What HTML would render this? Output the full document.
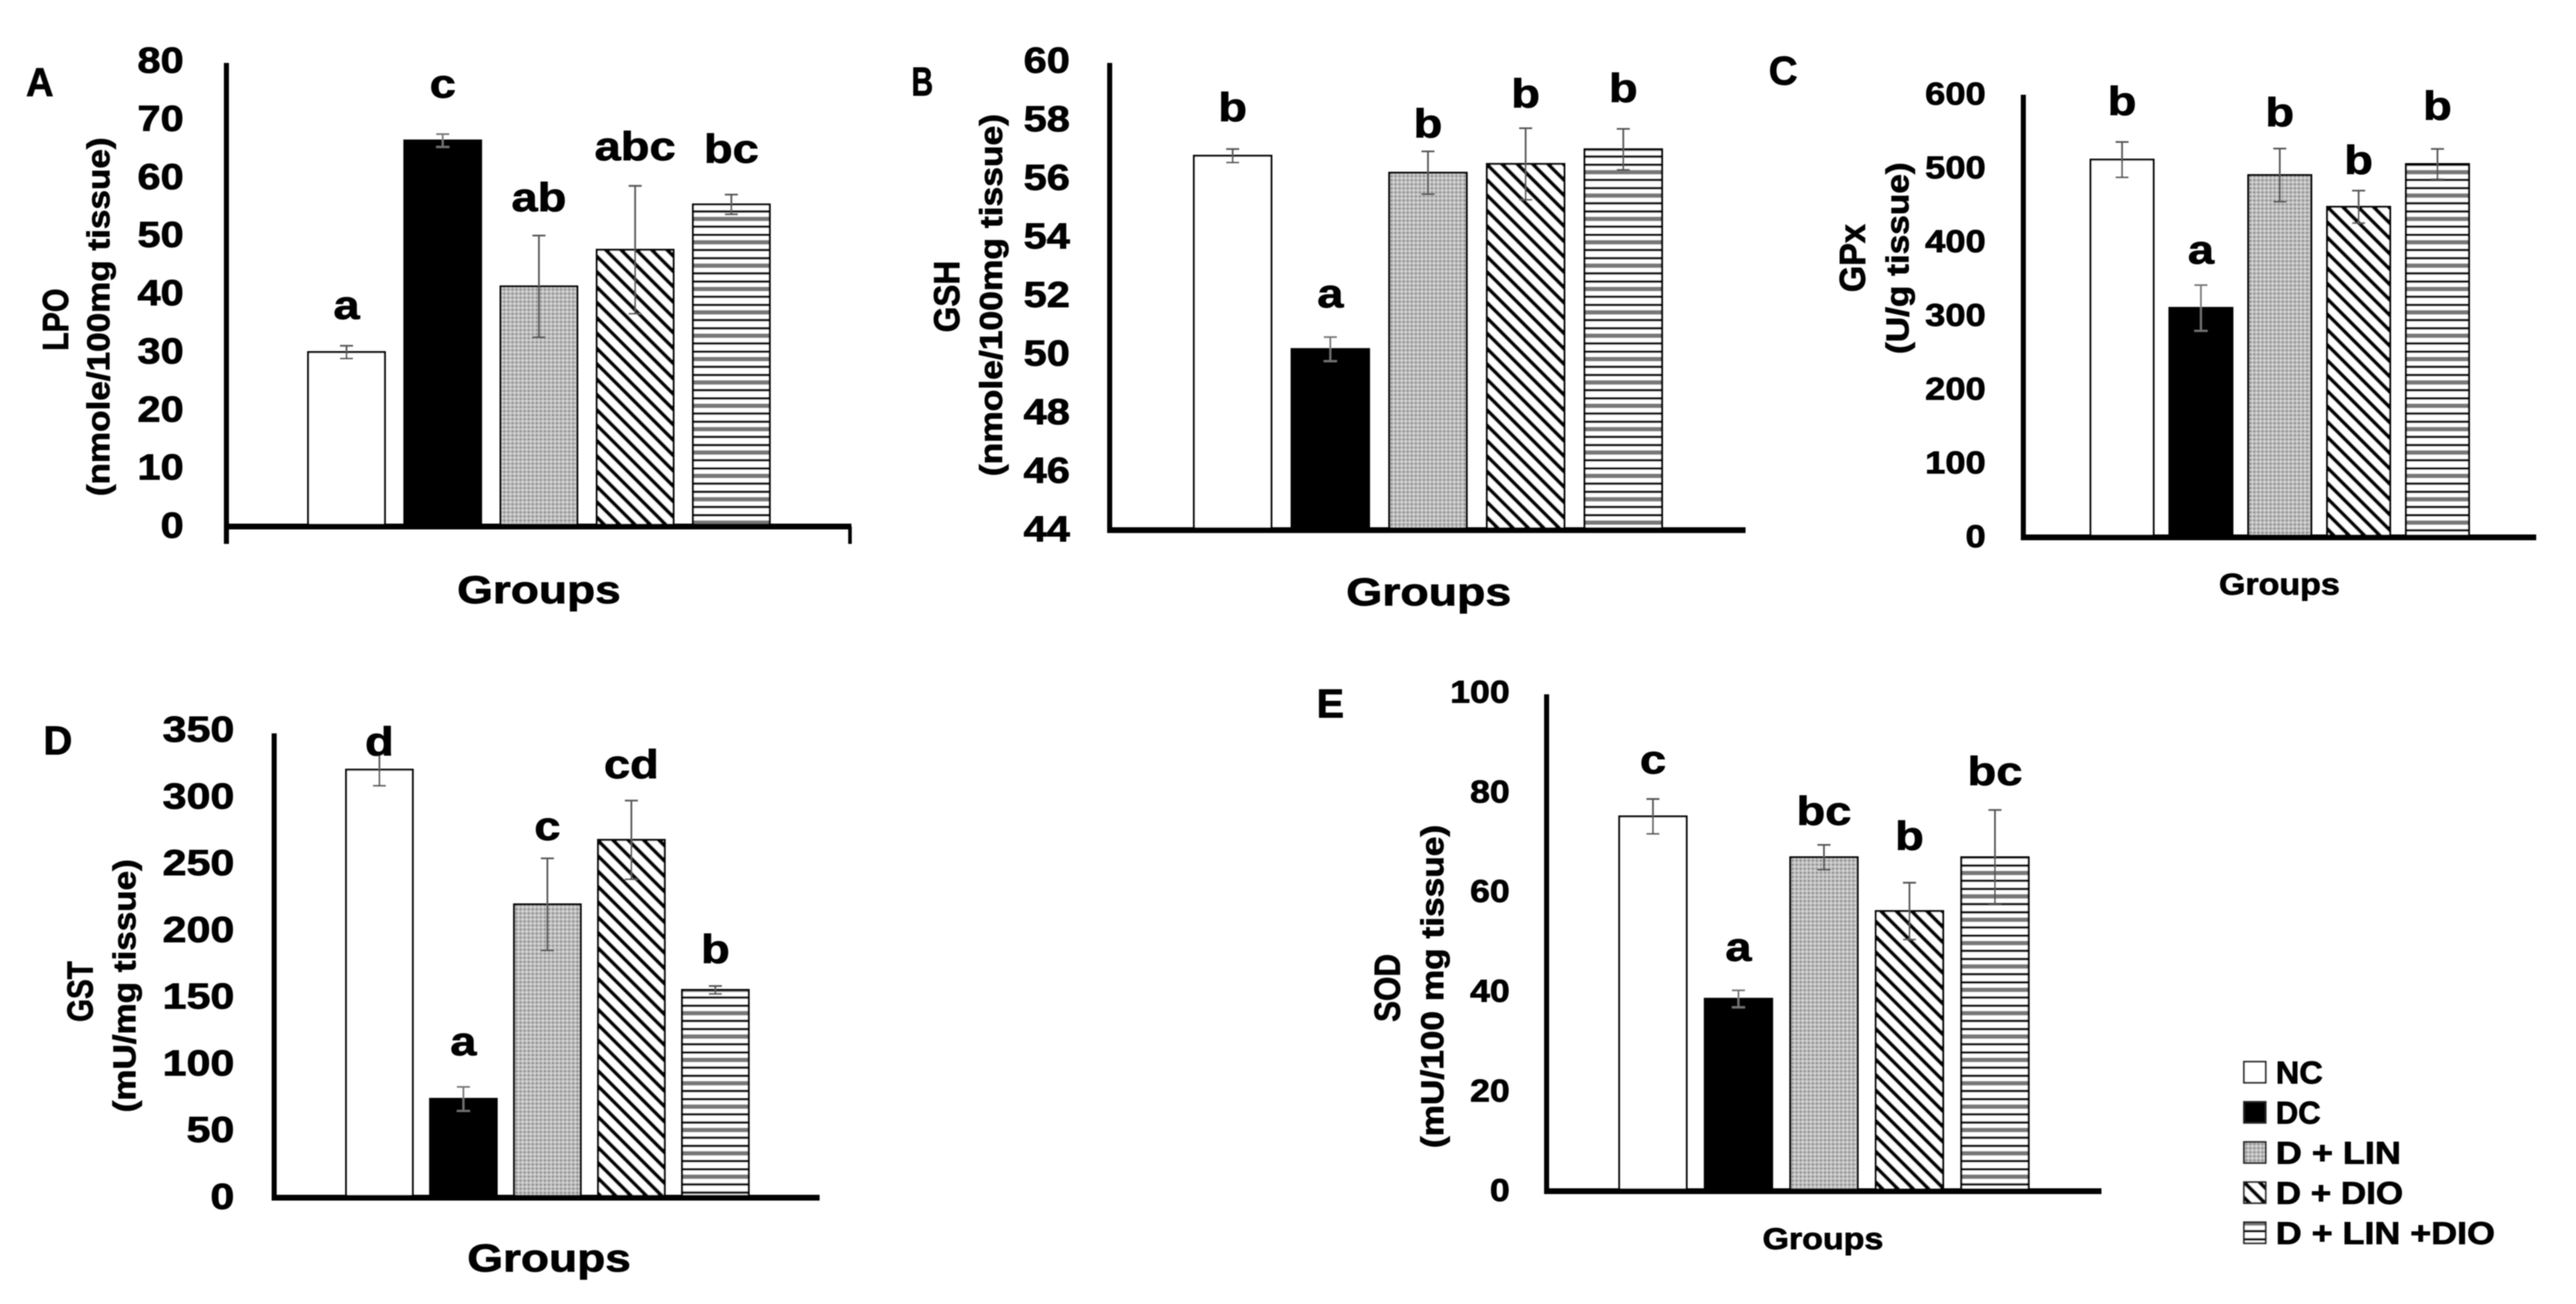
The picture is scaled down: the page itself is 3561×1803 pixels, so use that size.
<!DOCTYPE html>
<html lang="en">
<head>
<meta charset="utf-8">
<title>Oxidative stress markers by treatment group</title>
<style>
html,body{margin:0;padding:0;background:#fff;}
svg{display:block;}
text{font-family:"Liberation Sans",Arial,sans-serif;font-weight:bold;fill:#000;stroke:#000;stroke-width:1;}
</style>
</head>
<body>
<svg id="figure" xmlns="http://www.w3.org/2000/svg" width="3561" height="1803" viewBox="0 0 3561 1803">
  <defs>
    <filter id="soft" filterUnits="userSpaceOnUse" x="0" y="0" width="3561" height="1803">
      <feGaussianBlur stdDeviation="0.9"/>
    </filter>
    <pattern id="fill-nc" patternUnits="userSpaceOnUse" width="10" height="10"><rect width="10" height="10" fill="#fff"/></pattern>
    <pattern id="fill-dc" patternUnits="userSpaceOnUse" width="10" height="10"><rect width="10" height="10" fill="#000"/></pattern>
    <pattern id="fill-lin" patternUnits="userSpaceOnUse" width="5.6" height="5.6">
      <rect width="5.6" height="5.6" fill="#bcbcbc"/>
      <circle cx="2.8" cy="2.8" r="1.1" fill="#6a6a6a"/>
      <circle cx="0" cy="0" r="1" fill="#f2f2f2"/>
      <circle cx="5.6" cy="0" r="1" fill="#f2f2f2"/>
      <circle cx="0" cy="5.6" r="1" fill="#f2f2f2"/>
      <circle cx="5.6" cy="5.6" r="1" fill="#f2f2f2"/>
    </pattern>
    <pattern id="fill-diag" patternUnits="userSpaceOnUse" width="15" height="15" patternTransform="rotate(-45)">
      <rect width="15" height="15" fill="#fff"/>
      <rect x="0" y="0" width="5.5" height="15" fill="#000"/>
    </pattern>
    <pattern id="fill-combo" patternUnits="userSpaceOnUse" width="32.3" height="32.3">
      <rect width="32.3" height="32.3" fill="#fff"/>
      <rect y="0" width="32.3" height="3.4" fill="#000"/>
      <rect y="9" width="32.3" height="6" fill="#777"/>
      <rect y="21" width="32.3" height="3.4" fill="#000"/>
    </pattern>
  </defs>
  <rect width="3561" height="1803" fill="#fff"/>
  <g id="root" filter="url(#soft)"></g>
</svg>
<script>
const categories = ['NC', 'DC', 'D + LIN', 'D + DIO', 'D + LIN +DIO'];

const lpoValues = [30, 66.4, 41.3, 47.6, 55.4];
const lpoErrors = [1.1, 1.1, 8.75, 11, 1.7];
const lpoLetters = ['a', 'c', 'ab', 'abc', 'bc'];
const lpoLetterGaps = [4.4, 6.1, 4.0, 4.2, 5.3];
const lpoTicks = [0, 10, 20, 30, 40, 50, 60, 70, 80];

const gshValues = [56.78, 50.18, 56.2, 56.5, 57];
const gshErrors = [0.23, 0.41, 0.73, 1.22, 0.7];
const gshLetters = ['b', 'a', 'b', 'b', 'b'];
const gshLetterGaps = [0.91, 0.98, 0.44, 0.67, 0.88];
const gshTicks = [44, 46, 48, 50, 52, 54, 56, 58, 60];

const gpxValues = [512, 311, 491, 448, 506];
const gpxErrors = [24, 31, 36, 22, 20.5];
const gpxLetters = ['b', 'a', 'b', 'b', 'b'];
const gpxLetterGaps = [35, 27.5, 29, 21, 38];
const gpxTicks = [0, 100, 200, 300, 400, 500, 600];

const gstValues = [320.6, 74, 219.7, 268, 155.6];
const gstErrors = [12, 9, 34.5, 29.5, 3];
const gstLetters = ['d', 'a', 'c', 'cd', 'b'];
const gstLetterGaps = [-2, 23, 13, 16, 16.5];
const gstTicks = [0, 50, 100, 150, 200, 250, 300, 350];

const sodValues = [75.2, 38.6, 67, 56.2, 67];
const sodErrors = [3.5, 1.7, 2.5, 5.7, 9.5];
const sodLetters = ['c', 'a', 'bc', 'b', 'bc'];
const sodLetterGaps = [4.9, 5.7, 3.8, 6.4, 4.8];
const sodTicks = [0, 20, 40, 60, 80, 100];

const fills = ['url(#fill-nc)', 'url(#fill-dc)', 'url(#fill-lin)', 'url(#fill-diag)', 'url(#fill-combo)'];
const legendWidths = [65, 62, 173, 176, 303];

const root = document.getElementById('root');
const NS = 'http://www.w3.org/2000/svg';

function make(tag, attrs, parent, content) {
  const node = document.createElementNS(NS, tag);
  for (const key in attrs) node.setAttribute(key, attrs[key]);
  if (content !== undefined) node.textContent = content;
  parent.appendChild(node);
  return node;
}

function drawPanel(p) {
  const group = make('g', {}, root);
  
  

  const min = p.ticks[0];
  const max = p.ticks[p.ticks.length - 1];
  const yScale = v => p.base - (v - min) / (max - min) * (p.base - p.top);
  const xScale = i => p.firstCenter + i * p.step;

  categories.forEach((name, i) => {
    const barTop = yScale(p.values[i]);
    const bar = make('rect', {
      x: xScale(i) - p.barWidth / 2, y: barTop,
      width: p.barWidth, height: p.base - barTop,
      fill: fills[i], stroke: '#000', 'stroke-width': 2.8
    }, group);
    
    

    const hi = yScale(p.values[i] + p.errors[i]);
    const lo = yScale(p.values[i] - p.errors[i]);
    const cx = xScale(i);
    const errorBar = make('path', {
      d: 'M' + (cx - 9) + ' ' + hi + 'H' + (cx + 9) + 'M' + cx + ' ' + hi + 'V' + lo + 'M' + (cx - 9) + ' ' + lo + 'H' + (cx + 9),
      fill: 'none', stroke: i === 1 ? '#777' : '#555', 'stroke-width': 2.4
    }, group);
    
    

    const ly = yScale(p.values[i] + p.errors[i] + p.gaps[i]) - 1.5;
    const letter = make('text', {
      transform: 'translate(' + cx + ' ' + ly + ') scale(1.16 1)',
      'text-anchor': 'middle', 'font-size': 56
    }, group, p.letters[i]);
    
    
  });

  const yAxis = make('line', {
    x1: p.axisX, x2: p.axisX, y1: p.axisTop, y2: p.base + 4 + p.endTick,
    stroke: '#000', 'stroke-width': 7
  }, group);
  
  

  const xAxis = make('line', {
    x1: p.axisX - 3, x2: p.axisEnd, y1: p.base, y2: p.base,
    stroke: '#000', 'stroke-width': 8
  }, group);
  
  

  if (p.endTick > 0) {
    const endMark = make('line', {
      x1: p.axisEnd - 2, x2: p.axisEnd - 2, y1: p.base, y2: p.base + 4 + p.endTick,
      stroke: '#000', 'stroke-width': 5
    }, group);
    
    
  }

  p.ticks.forEach(t => {
    const y = yScale(t) + p.tickSize * 0.31;
    const tick = make('text', {
      transform: 'translate(' + p.tickRight + ' ' + y + ') scale(' + p.tickStretch + ' 1)',
      'text-anchor': 'end', 'font-size': p.tickSize
    }, group, String(t));
    
    
  });

  const title1 = make('text', {
    transform: 'translate(' + p.title1X + ' ' + p.title1Y + ') rotate(-90)',
    'text-anchor': 'middle', 'font-size': 50,
    textLength: p.title1Len, lengthAdjust: 'spacingAndGlyphs'
  }, group, p.title1);
  
  

  const title2 = make('text', {
    transform: 'translate(' + p.title2X + ' ' + p.title2Y + ') rotate(-90)',
    'text-anchor': 'middle', 'font-size': 44,
    textLength: p.title2Len, lengthAdjust: 'spacingAndGlyphs'
  }, group, p.title2);
  
  

  const xTitle = make('text', {
    x: p.groupsX, y: p.groupsY, 'text-anchor': 'middle', 'font-size': p.groupsSize,
    textLength: p.groupsLen, lengthAdjust: 'spacingAndGlyphs'
  }, group, 'Groups');
  
  

  const tag = make('text', {
    x: p.tagX, y: p.tagY, 'font-size': 56,
    textLength: p.tagLen, lengthAdjust: 'spacingAndGlyphs'
  }, group, p.key);
  
  
}

drawPanel({
  key: 'A', values: lpoValues, errors: lpoErrors, letters: lpoLetters, gaps: lpoLetterGaps, ticks: lpoTicks,
  base: 728, top: 85, axisX: 313, axisTop: 87, axisEnd: 1177, endTick: 20,
  firstCenter: 479, step: 133, barWidth: 106,
  tickRight: 254, tickSize: 50, tickStretch: 1.15,
  title1: 'LPO', title1X: 94, title1Y: 442, title1Len: 86,
  title2: '(nmole/100mg tissue)', title2X: 151, title2Y: 438, title2Len: 496,
  groupsX: 745, groupsY: 834, groupsSize: 54, groupsLen: 226,
  tagX: 36, tagY: 133, tagLen: 38
});

drawPanel({
  key: 'B', values: gshValues, errors: gshErrors, letters: gshLetters, gaps: gshLetterGaps, ticks: gshTicks,
  base: 733, top: 85, axisX: 1534, axisTop: 87, axisEnd: 2413, endTick: 0,
  firstCenter: 1704, step: 135, barWidth: 107,
  tickRight: 1479, tickSize: 50, tickStretch: 1.15,
  title1: 'GSH', title1X: 1326, title1Y: 410, title1Len: 99,
  title2: '(nmole/100mg tissue)', title2X: 1385, title2Y: 408, title2Len: 501,
  groupsX: 1975, groupsY: 837, groupsSize: 54, groupsLen: 228,
  tagX: 1260, tagY: 132, tagLen: 30
});

drawPanel({
  key: 'C', values: gpxValues, errors: gpxErrors, letters: gpxLetters, gaps: gpxLetterGaps, ticks: gpxTicks,
  base: 743, top: 131, axisX: 2797, axisTop: 131, axisEnd: 3506, endTick: 0,
  firstCenter: 2933.5, step: 109, barWidth: 87,
  tickRight: 2745, tickSize: 44, tickStretch: 1.14,
  title1: 'GPx', title1X: 2578, title1Y: 357, title1Len: 94,
  title2: '(U/g tissue)', title2X: 2638, title2Y: 357, title2Len: 265,
  groupsX: 3151, groupsY: 822, groupsSize: 42, groupsLen: 167,
  tagX: 2445, tagY: 117, tagLen: 40
});

drawPanel({
  key: 'D', values: gstValues, errors: gstErrors, letters: gstLetters, gaps: gstLetterGaps, ticks: gstTicks,
  base: 1656, top: 1010, axisX: 379, axisTop: 1014, axisEnd: 1133, endTick: 0,
  firstCenter: 524.5, step: 116.1, barWidth: 92,
  tickRight: 324, tickSize: 50, tickStretch: 1.19,
  title1: 'GST', title1X: 128, title1Y: 1371, title1Len: 84,
  title2: '(mU/mg tissue)', title2X: 187, title2Y: 1363, title2Len: 350,
  groupsX: 759, groupsY: 1758, groupsSize: 54, groupsLen: 226,
  tagX: 60, tagY: 1043, tagLen: 40
});

drawPanel({
  key: 'E', values: sodValues, errors: sodErrors, letters: sodLetters, gaps: sodLetterGaps, ticks: sodTicks,
  base: 1647, top: 958, axisX: 2138, axisTop: 960, axisEnd: 2905, endTick: 0,
  firstCenter: 2285, step: 118.2, barWidth: 93,
  tickRight: 2087, tickSize: 44, tickStretch: 1.12,
  title1: 'SOD', title1X: 1935, title1Y: 1366, title1Len: 94,
  title2: '(mU/100 mg tissue)', title2X: 1995, title2Y: 1364, title2Len: 447,
  groupsX: 2520, groupsY: 1727, groupsSize: 42, groupsLen: 167,
  tagX: 1820, tagY: 992, tagLen: 38
});

const legend = make('g', {}, root);


categories.forEach((name, i) => {
  const rowY = 1468 + i * 55.5;
  const swatch = make('rect', {
    x: 3102, y: rowY, width: 30, height: 29,
    fill: fills[i], stroke: '#222', 'stroke-width': 2.4
  }, legend);
  
  
  const label = make('text', {
    x: 3146, y: rowY + 30, 'font-size': 44,
    textLength: legendWidths[i], lengthAdjust: 'spacingAndGlyphs'
  }, legend, name);
  
  
});
</script>
</body>
</html>
